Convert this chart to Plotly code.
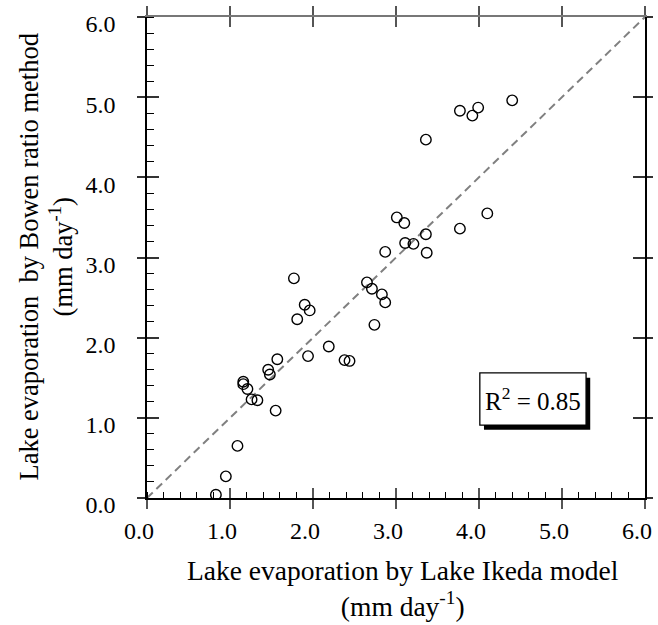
import plotly.graph_objects as go

# Daily lake evaporation (mm/day): Lake Ikeda model (x) vs Bowen ratio method (y)
model_evap = [0.83, 0.95, 1.09, 1.55, 1.26, 1.33, 1.21, 1.16, 1.16, 1.46,
              1.48, 1.57, 1.94, 2.19, 2.38, 2.44, 1.81, 1.90, 1.96, 2.74,
              1.77, 2.65, 2.71, 2.83, 2.87, 2.87, 3.37, 3.11, 3.21, 3.36,
              3.01, 3.10, 3.77, 4.10, 3.36, 3.77, 3.92, 3.99, 4.40]
bowen_evap = [0.04, 0.27, 0.65, 1.09, 1.23, 1.22, 1.36, 1.45, 1.42, 1.60,
              1.54, 1.73, 1.77, 1.89, 1.72, 1.71, 2.23, 2.41, 2.34, 2.16,
              2.74, 2.69, 2.61, 2.54, 2.44, 3.07, 3.06, 3.18, 3.17, 3.29,
              3.50, 3.43, 3.36, 3.55, 4.47, 4.83, 4.77, 4.87, 4.96]
one_to_one = [0.0, 6.0]
axis_ticks = [0, 1, 2, 3, 4, 5, 6]
r_squared = 0.85

FONT = "Liberation Serif"
AX_RANGE = [0, 6]

fig = go.Figure()

# 1:1 reference line
fig.add_trace(go.Scatter(
    x=one_to_one, y=one_to_one, mode="lines",
    line=dict(color="#808080", width=2, dash="8px,5px"),
    hoverinfo="skip", showlegend=False))

# observations
fig.add_trace(go.Scatter(
    x=model_evap, y=bowen_evap, mode="markers",
    marker=dict(symbol="circle-open", size=10.5, color="black",
                line=dict(width=1.4, color="black")),
    showlegend=False))

# empty traces so the overlay axes (crossing ticks, top/right frame) are drawn
fig.add_trace(go.Scatter(x=[None], y=[None], xaxis="x2", yaxis="y2",
                         showlegend=False, hoverinfo="skip"))
fig.add_trace(go.Scatter(x=[None], y=[None], xaxis="x3", yaxis="y3",
                         showlegend=False, hoverinfo="skip"))

common = dict(range=AX_RANGE, tickvals=axis_ticks, showgrid=False,
              zeroline=False, fixedrange=True, automargin=False)

fig.update_layout(
    width=658, height=625,
    margin=dict(l=147, r=13, t=17, b=127),
    paper_bgcolor="white", plot_bgcolor="white",
    font=dict(family=FONT, color="black"),
    xaxis=dict(**common, side="bottom", showline=True, linecolor="black",
               linewidth=1.5, ticks="outside", ticklen=9, tickwidth=2,
               tickcolor="#555", tickformat=".1f",
               tickfont=dict(family=FONT, size=24, color="black"),
               ticklabelstandoff=1, ticklabelshift=-8,
               ticklabeloverflow="allow",
               minor=dict(ticks="inside", dtick=0.2, ticklen=6,
                          tickwidth=1.3, tickcolor="black")),
    xaxis2=dict(**common, overlaying="x", anchor="y", side="bottom",
                showline=False, ticks="inside", ticklen=10, tickwidth=2,
                tickcolor="#555", mirror="ticks", showticklabels=False),
    xaxis3=dict(**common, overlaying="x", anchor="y", side="top",
                showline=True, linecolor="#777", linewidth=1.5,
                ticks="outside", ticklen=9, tickwidth=2, tickcolor="#555",
                showticklabels=False),
    yaxis=dict(**common, side="left", showline=True, linecolor="black",
               linewidth=1.5, ticks="outside", ticklen=8, tickwidth=2,
               tickcolor="#333", tickformat=".1f",
               tickfont=dict(family=FONT, size=24, color="black"),
               ticklabelstandoff=17, ticklabelshift=7,
               ticklabeloverflow="allow",
               minor=dict(ticks="inside", dtick=0.2, ticklen=7,
                          tickwidth=1.3, tickcolor="black")),
    yaxis2=dict(**common, overlaying="y", anchor="x", side="left",
                showline=False, ticks="inside", ticklen=12, tickwidth=2,
                tickcolor="#333", mirror="ticks", showticklabels=False),
    yaxis3=dict(**common, overlaying="y", anchor="x", side="right",
                showline=True, linecolor="black", linewidth=1.5,
                ticks="outside", ticklen=6, tickwidth=2, tickcolor="#333",
                showticklabels=False),
)

# axis titles
fig.add_annotation(
    xref="paper", yref="paper", x=0.5, y=0, xshift=7, yshift=-55,
    xanchor="center", yanchor="top", showarrow=False, align="center",
    text="Lake evaporation by Lake Ikeda model<br>(mm day<sup>-1</sup>)",
    font=dict(family=FONT, size=27.5, color="black"))
fig.add_annotation(
    xref="paper", yref="paper", x=0, y=0.5, xshift=-147 + 11,
    xanchor="left", yanchor="middle", textangle=-90, showarrow=False,
    align="center",
    text="Lake evaporation\u00a0 by Bowen ratio method<br>(mm day<sup>-1</sup>)",
    font=dict(family=FONT, size=26.5, color="black"))

# R² box with drop shadow
box_x = [4.01, 5.29]
box_y = [0.91, 1.56]
shadow_dx, shadow_dy = 0.05, 0.06
fig.add_shape(type="rect", xref="x", yref="y",
              x0=box_x[0] + shadow_dx, x1=box_x[1] + shadow_dx,
              y0=box_y[0] - shadow_dy, y1=box_y[1] - shadow_dy,
              fillcolor="black", line=dict(width=0), layer="above")
fig.add_shape(type="rect", xref="x", yref="y",
              x0=box_x[0], x1=box_x[1], y0=box_y[0], y1=box_y[1],
              fillcolor="white", line=dict(color="black", width=1.3),
              layer="above")
fig.add_annotation(
    xref="x", yref="y", x=sum(box_x) / 2, y=sum(box_y) / 2,
    xanchor="center", yanchor="middle", showarrow=False,
    text=f"R<sup>2</sup> = {r_squared:.2f}",
    font=dict(family=FONT, size=25, color="black"))

fig.write_html("out.html")
